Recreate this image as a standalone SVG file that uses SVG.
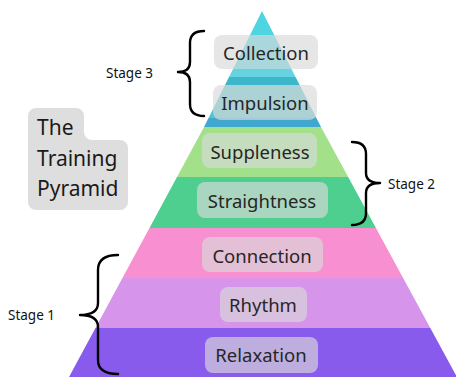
<svg xmlns="http://www.w3.org/2000/svg" width="456" height="377" viewBox="0 0 456 377">
<style>
.lbl{font-family:"Noto Sans","Open Sans",sans-serif;font-size:18.5px;fill:#262626;text-anchor:middle;dominant-baseline:central}
.box{fill:#d9d9d9;fill-opacity:0.66}
.stage{font-family:"Noto Sans","Open Sans",sans-serif;font-size:13.5px;fill:#111;dominant-baseline:central}
.brace{fill:none;stroke:#000;stroke-width:2.4;stroke-linecap:round;stroke-linejoin:round}
.title{font-family:"Noto Sans","Open Sans",sans-serif;font-size:21px;fill:#1a1a1a}
</style>
<defs>
<clipPath id="pyr"><path d="M262,11 L204,127 L69,377 L457,377 L321,127 Z"/></clipPath>
</defs>
<rect width="456" height="377" fill="#ffffff"/>
<g id="pyramid" clip-path="url(#pyr)">
<rect x="0" y="0" width="456" height="69" fill="#4fd4e2"/>
<rect x="0" y="69" width="456" height="8" fill="#64d5e0"/>
<rect x="0" y="77" width="456" height="8" fill="#3db8cb"/>
<rect x="0" y="85" width="456" height="33" fill="#55c3d1"/>
<rect x="0" y="118" width="456" height="9" fill="#40a8cf"/>
<rect x="0" y="127" width="456" height="50" fill="#a2e08a"/>
<rect x="0" y="177" width="456" height="51" fill="#4fcf8f"/>
<rect x="0" y="228" width="456" height="50" fill="#f78fd0"/>
<rect x="0" y="278" width="456" height="50" fill="#d694ea"/>
<rect x="0" y="328" width="456" height="49" fill="#895bec"/>
</g>
<g id="title">
<path d="M36,108 H76 A8,8 0 0 1 84,116 V132 A8,8 0 0 0 92,140 H120 A8,8 0 0 1 128,148 V202 A8,8 0 0 1 120,210 H36 A8,8 0 0 1 28,202 V116 A8,8 0 0 1 36,108 Z" fill="#dedede"/>
<text class="title" x="37" y="135">The</text>
<text class="title" x="37" y="166">Training</text>
<text class="title" x="37" y="196">Pyramid</text>
</g>
<g id="collection"><rect class="box" x="214" y="35" width="104" height="34" rx="8"/><text class="lbl" x="266" y="52">Collection</text></g>
<g id="impulsion"><rect class="box" x="213" y="85" width="104" height="35" rx="8"/><text class="lbl" x="265" y="102">Impulsion</text></g>
<g id="suppleness"><rect class="box" x="202" y="133" width="115" height="35" rx="8"/><text class="lbl" x="260" y="151">Suppleness</text></g>
<g id="straightness"><rect class="box" x="197" y="182" width="131" height="36" rx="8"/><text class="lbl" x="262" y="200">Straightness</text></g>
<g id="connection"><rect class="box" x="202" y="237" width="121" height="35" rx="8"/><text class="lbl" x="262" y="255">Connection</text></g>
<g id="rhythm"><rect class="box" x="220" y="287" width="87" height="35" rx="8"/><text class="lbl" x="263" y="304">Rhythm</text></g>
<g id="relaxation"><rect class="box" x="205" y="337" width="113" height="36" rx="8"/><text class="lbl" x="261" y="354">Relaxation</text></g>
<g id="connectors">
<path class="brace" d="M204,31 Q190,31 190,43 L190,62 Q190,72 178,72 Q190,72 190,82 L190,104 Q190,116 204,116"/>
<path class="brace" d="M352,142 Q366,142 366,154 L366,173 Q366,183 380,183 Q366,183 366,193 L366,213 Q366,225 352,225"/>
<path class="brace" d="M118,255 Q98,255 98,270 L98,303 Q98,315 80,315 Q98,315 98,327 L98,360 Q98,374 118,374"/>
</g>
<g id="stage3"><text class="stage" x="106" y="73">Stage 3</text></g>
<g id="stage2"><text class="stage" x="388" y="184">Stage 2</text></g>
<g id="stage1"><text class="stage" x="8" y="315">Stage 1</text></g>
</svg>
